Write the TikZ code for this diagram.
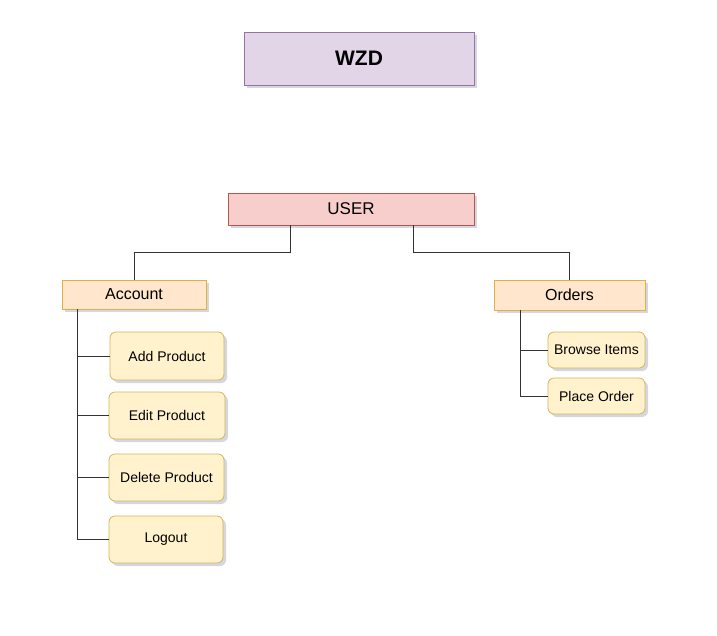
\documentclass[tikz,border=0pt]{standalone}
\usepackage{fontspec}
\setmainfont{Liberation Sans}
\usepackage{tikz}
\usetikzlibrary{shadows}

\definecolor{wzdfill}{HTML}{E1D5E7}
\definecolor{wzdline}{HTML}{9673A6}
\definecolor{userfill}{HTML}{F8CECC}
\definecolor{userline}{HTML}{B85450}
\definecolor{groupfill}{HTML}{FFE6CC}
\definecolor{groupline}{HTML}{E0B040}
\definecolor{itemfill}{HTML}{FFF2CC}
\definecolor{itemline}{HTML}{D6B656}
\definecolor{shadowgray}{HTML}{B8BCCC}

\tikzset{
	box/.style={draw, line width=0.8pt, inner sep=0pt, align=center,
		drop shadow={shadow xshift=3pt, shadow yshift=-3pt, fill=shadowgray, opacity=0.6}},
	groupbox/.style={box, fill=groupfill, draw=groupline, font=\fontsize{16}{18}\selectfont},
	itembox/.style={box, fill=itemfill, draw=itemline, rounded corners=6pt, font=\fontsize{14}{16}\selectfont},
	link/.style={draw=black!80, line width=0.9pt}
}

\begin{document}
\begin{tikzpicture}[x=1pt, y=-1pt]
			\useasboundingbox (0, 0) rectangle (717, 635);
			\fill[white] (0, 0) rectangle (717, 635);

			\node[box, fill=wzdfill, draw=wzdline, minimum width=230, minimum height=53, font=\fontsize{21}{24}\selectfont\bfseries] (wzd) at (359, 58.5) {WZD};

			\node[box, fill=userfill, draw=userline, minimum width=246, minimum height=32, font=\fontsize{17}{20}\selectfont] (user) at (351, 209) {USER};

			\node[groupbox, minimum width=144, minimum height=29] (account) at (134, 294.5) {Account};
			\node[groupbox, minimum width=151, minimum height=30] (orders) at (569.5, 295) {Orders};

			\node[itembox, minimum width=114, minimum height=48] (add) at (167, 356) {Add Product};
			\node[itembox, minimum width=116, minimum height=47] (edit) at (167, 415.5) {Edit Product};
			\node[itembox, minimum width=115, minimum height=47] (delete) at (166.5, 477.5) {Delete Product};
			\node[itembox, minimum width=114, minimum height=47] (logout) at (166, 539.5) {Logout};

			\node[itembox, minimum width=97, minimum height=36] (browse) at (596.5, 350) {Browse Items};
			\node[itembox, minimum width=97, minimum height=36] (place) at (596.5, 396) {Place Order};

			\draw[link] (290, 0 |- user.south)--++(0, 27)-|(account.north);
			\draw[link] (413, 0 |- user.south)--++(0, 27)-|(orders.north);

			\foreach \item in {add, edit, delete, logout}
				\draw[link] (77, 0 |- account.south)|-(\item.west);

			\foreach \item in {browse, place}
				\draw[link] (520, 0 |- orders.south)|-(\item.west);
		\end{tikzpicture}
\end{document}
